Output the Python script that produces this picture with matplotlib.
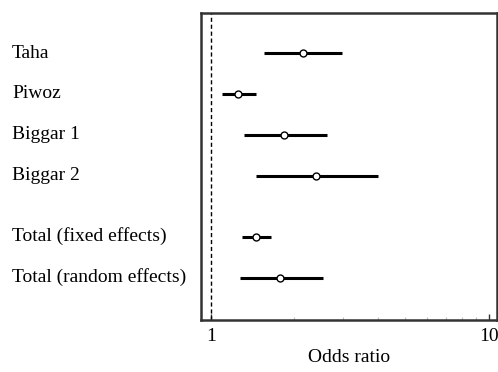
import matplotlib.pyplot as plt
from matplotlib.ticker import FixedLocator, NullFormatter

# study labels and odds ratios with 95% CI
studies = ["Taha", "Piwoz", "Biggar 1", "Biggar 2",
           "Total (fixed effects)", "Total (random effects)"]
odds_ratio = [2.14, 1.25, 1.84, 2.39, 1.455, 1.78]
ci_low = [1.555, 1.096, 1.32, 1.46, 1.30, 1.27]
ci_high = [2.97, 1.455, 2.61, 3.98, 1.65, 2.53]
rows = [0, 1, 2, 3, 4.5, 5.5]

plt.rcParams['font.family'] = ['Liberation Serif', 'DejaVu Serif']
fs = 14

fig = plt.figure(figsize=(4.98, 3.72), dpi=100)
ax = fig.add_axes([0.4036, 0.1398, 0.5944, 0.8252])
ax.set_xscale('log')
ax.set_xlim(0.923, 10.7)
ax.set_ylim(6.54, -0.99)

# line of no effect
ax.axvline(1, color='black', linestyle=(0, (3, 2)), linewidth=1.0)

for y, lo, hi, orr in zip(rows, ci_low, ci_high, odds_ratio):
    ax.plot([lo, hi], [y, y], color='black', linewidth=2.2, solid_capstyle='butt')
    ax.plot(orr, y, marker='o', markersize=5, markerfacecolor='white',
            markeredgecolor='black', markeredgewidth=1.0)

for y, name in zip(rows, studies):
    fig.text(12 / 498, 1 - (13 + (y + 0.99) * 40.7) / 372, name,
             fontsize=fs, va='center', ha='left')

ax.set_yticks([])
ax.xaxis.set_major_locator(FixedLocator([1, 10]))
ax.set_xticklabels(['1', '10'], fontsize=fs)
ax.xaxis.set_minor_locator(FixedLocator([2, 3, 4, 5, 6, 7, 8, 9]))
ax.xaxis.set_minor_formatter(NullFormatter())
ax.tick_params(axis='x', which='major', direction='in', length=4, width=1,
               color='#333333', pad=6)
ax.tick_params(axis='x', which='minor', direction='in', length=2, width=0.8,
               color='#bbbbbb')
ax.set_xlabel('Odds ratio', fontsize=fs, labelpad=3)

for s in ax.spines.values():
    s.set_linewidth(1.8)
    s.set_color('#333333')

fig.savefig('out.png', dpi=100)
